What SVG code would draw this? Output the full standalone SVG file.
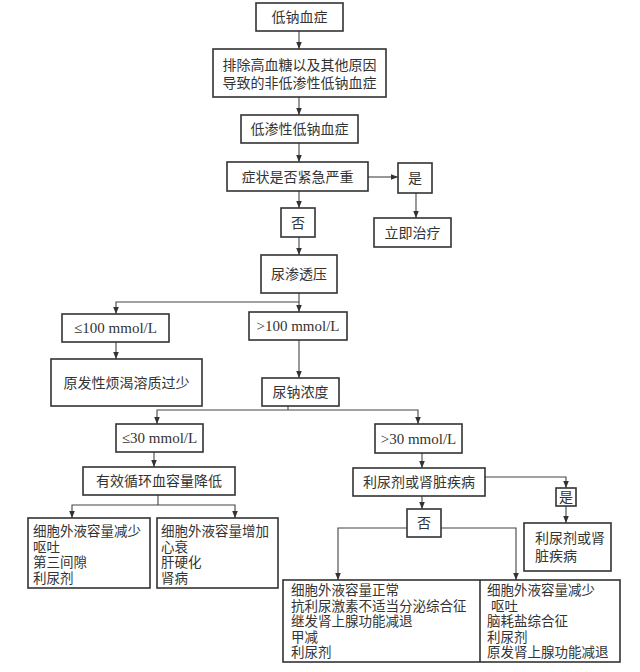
<svg xmlns="http://www.w3.org/2000/svg" width="640" height="672" viewBox="0 0 640 672">
<defs>
<marker id="ah" markerWidth="8" markerHeight="8" refX="7" refY="4" orient="auto" markerUnits="userSpaceOnUse">
<path d="M0,1.2 L7,4 L0,6.8 Z" fill="#333"/>
</marker>
<style>
.b{fill:#fff;stroke:#333;stroke-width:1.6}
.t{font-family:"Noto Sans CJK SC","Noto Sans",sans-serif;font-size:14px;fill:#333}
.s{font-size:13.5px}
.m{font-family:"Liberation Serif","DejaVu Serif",serif;font-size:15px;fill:#333}
.c{text-anchor:middle}
.l{fill:none;stroke:#444;stroke-width:1.1}
.a{marker-end:url(#ah)}
</style>
</defs>
<rect width="640" height="672" fill="#fff"/>
<g id="connectors">
<line class="l a" x1="299" y1="31" x2="299" y2="49"/>
<line class="l a" x1="299" y1="97" x2="299" y2="115"/>
<line class="l a" x1="299" y1="143" x2="299" y2="162"/>
<line class="l a" x1="368" y1="177" x2="398" y2="177"/>
<line class="l a" x1="416" y1="193" x2="416" y2="218"/>
<line class="l a" x1="299" y1="191" x2="299" y2="208"/>
<line class="l a" x1="299" y1="237" x2="299" y2="255"/>
<line class="l a" x1="299" y1="293" x2="299" y2="312"/>
<path class="l a" d="M299,302 H116 V314"/>
<line class="l a" x1="116" y1="342" x2="116" y2="359"/>
<line class="l a" x1="299" y1="340" x2="299" y2="378"/>
<line class="l" x1="288" y1="406" x2="288" y2="410"/>
<path class="l a" d="M288,410 H157 V424"/>
<path class="l a" d="M288,410 H418 V424"/>
<line class="l a" x1="154" y1="452" x2="154" y2="467"/>
<line class="l a" x1="422" y1="453" x2="422" y2="468"/>
<path class="l a" d="M485,477 H566 V488"/>
<line class="l a" x1="566" y1="506" x2="566" y2="523"/>
<line class="l" x1="158" y1="495" x2="158" y2="505"/>
<path class="l a" d="M158,505 H72 V518"/>
<path class="l a" d="M158,505 H235 V518"/>
<line class="l a" x1="422" y1="496" x2="422" y2="509"/>
<path class="l a" d="M407,528 H338 V580"/>
<path class="l a" d="M441,528 H516 V580"/>
</g>
<g id="n1"><rect class="b" x="256" y="3" width="87" height="28"/><text class="t c" x="299.5" y="22">低钠血症</text></g>
<g id="n2"><rect class="b" x="213" y="49" width="173" height="48"/><text class="t c" x="299.5" y="70">排除高血糖以及其他原因</text><text class="t c" x="299.5" y="88">导致的非低渗性低钠血症</text></g>
<g id="n3"><rect class="b" x="241" y="115" width="117" height="28"/><text class="t c" x="299.5" y="134">低渗性低钠血症</text></g>
<g id="n4"><rect class="b" x="227" y="162" width="141" height="29"/><text class="t c" x="297.5" y="181.5">症状是否紧急严重</text></g>
<g id="n5"><rect class="b" x="398" y="163" width="34" height="30"/><text class="t c" x="415" y="183">是</text></g>
<g id="n6"><rect class="b" x="374" y="218" width="77" height="29"/><text class="t c" x="412.5" y="237.5">立即治疗</text></g>
<g id="n7"><rect class="b" x="281" y="208" width="34" height="29"/><text class="t c" x="298" y="227.5">否</text></g>
<g id="n8"><rect class="b" x="261" y="255" width="76" height="38"/><text class="t c" x="299" y="279">尿渗透压</text></g>
<g id="n9"><rect class="b" x="62" y="314" width="107" height="28"/><text class="m c" x="115.5" y="333">≤100 mmol/L</text></g>
<g id="n10"><rect class="b" x="249" y="312" width="98" height="28"/><text class="m c" x="298" y="331">&gt;100 mmol/L</text></g>
<g id="n11"><rect class="b" x="51" y="359" width="151" height="47"/><text class="t c" x="126.5" y="387.5">原发性烦渴溶质过少</text></g>
<g id="n12"><rect class="b" x="262" y="378" width="77" height="28"/><text class="t c" x="300.5" y="397">尿钠浓度</text></g>
<g id="n13"><rect class="b" x="116" y="424" width="87" height="28"/><text class="m c" x="159.5" y="443">≤30 mmol/L</text></g>
<g id="n14"><rect class="b" x="375" y="424" width="87" height="29"/><text class="m c" x="418.5" y="443.5">&gt;30 mmol/L</text></g>
<g id="n15"><rect class="b" x="83" y="467" width="152" height="28"/><text class="t c" x="159" y="486">有效循环血容量降低</text></g>
<g id="n16"><rect class="b" x="353" y="468" width="132" height="28"/><text class="t c" x="419" y="487">利尿剂或肾脏疾病</text></g>
<g id="n17"><rect class="b" x="556" y="488" width="20" height="18"/><text class="t c" x="566" y="502">是</text></g>
<g id="n18"><rect class="b" x="524" y="523" width="87" height="48"/><text class="t" x="535" y="543">利尿剂或肾</text><text class="t" x="535" y="561">脏疾病</text></g>
<g id="n19"><rect class="b" x="407" y="509" width="34" height="28"/><text class="t c" x="424" y="528">否</text></g>
<g id="n20"><rect class="b" x="28" y="518" width="122" height="70"/>
<text class="t s" x="33" y="536">细胞外液容量减少</text><text class="t s" x="33" y="551.5">呕吐</text><text class="t s" x="33" y="567">第三间隙</text><text class="t s" x="33" y="582.5">利尿剂</text></g>
<g id="n21"><rect class="b" x="157" y="518" width="121" height="70"/>
<text class="t s" x="161" y="536">细胞外液容量增加</text><text class="t s" x="161" y="551.5">心衰</text><text class="t s" x="161" y="567">肝硬化</text><text class="t s" x="161" y="582.5">肾病</text></g>
<g id="n22"><rect class="b" x="283" y="580" width="337" height="82"/><line class="b" x1="480" y1="580" x2="480" y2="662"/>
<text class="t s" x="291" y="595">细胞外液容量正常</text><text class="t s" x="291" y="610.5">抗利尿激素不适当分泌综合征</text><text class="t s" x="291" y="626">继发肾上腺功能减退</text><text class="t s" x="291" y="641.5">甲减</text><text class="t s" x="291" y="657">利尿剂</text>
<text class="t s" x="487" y="595">细胞外液容量减少</text><text class="t s" x="491" y="610.5">呕吐</text><text class="t s" x="487" y="626">脑耗盐综合征</text><text class="t s" x="487" y="641.5">利尿剂</text><text class="t s" x="487" y="657">原发肾上腺功能减退</text></g>
</svg>
